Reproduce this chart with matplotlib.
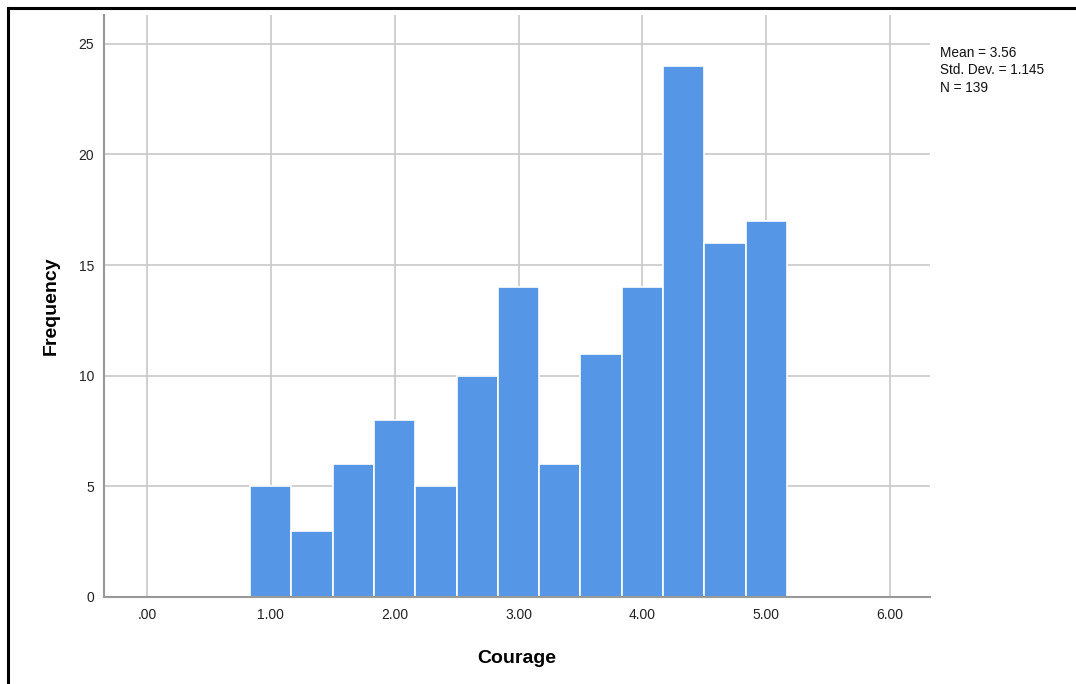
import numpy as np
import matplotlib
matplotlib.use("Agg")
import matplotlib.pyplot as plt
from matplotlib.lines import Line2D

plt.rcParams['font.family'] = ['Liberation Sans', 'DejaVu Sans']

# bin centres (width 1/3) and counts
bin_centers = [1.0, 4 / 3, 5 / 3, 2.0, 7 / 3, 8 / 3, 3.0, 10 / 3, 11 / 3, 4.0, 13 / 3, 14 / 3, 5.0]
counts = [5, 3, 6, 8, 5, 10, 14, 6, 11, 14, 24, 16, 17]
bin_width = 1 / 3

x_ticks = [0, 1, 2, 3, 4, 5, 6]
x_labels = [".00", "1.00", "2.00", "3.00", "4.00", "5.00", "6.00"]
y_ticks = [0, 5, 10, 15, 20, 25]

stats_text = "Mean = 3.56\nStd. Dev. = 1.145\nN = 139"

fig = plt.figure(figsize=(10.76, 6.84), dpi=100)
ax = fig.add_axes([0.0967, 0.1272, 0.864 - 0.0967, 0.978 - 0.1272])

ax.bar(bin_centers, counts, width=bin_width, color='#5596e6',
       edgecolor='white', linewidth=1.2, zorder=3)

ax.set_xlim(-0.347, 6.32)
ax.set_ylim(0, 26.3)
ax.set_xticks(x_ticks)
ax.set_xticklabels(x_labels)
ax.set_yticks(y_ticks)
ax.tick_params(length=0, labelsize=10, colors='#222222', pad=8)
ax.tick_params(axis='y', pad=7)

ax.grid(True, color='#c8c8c8', linewidth=1.2, zorder=0)
for s in ['top', 'right']:
    ax.spines[s].set_visible(False)
for s in ['left', 'bottom']:
    ax.spines[s].set_color('#999999')
    ax.spines[s].set_linewidth(1.5)
    ax.spines[s].set_zorder(4)

ax.set_xlabel('Courage', fontsize=14, fontweight='bold', labelpad=20)
ax.set_ylabel('Frequency', fontsize=14, fontweight='bold', labelpad=14)

fig.text(940 / 1076, 1 - 46 / 684, stats_text, fontsize=9.8, va='top',
         ha='left', linespacing=1.3, color='#111111')

# black frame on the top and left edges
fig.add_artist(Line2D([7.5 / 1076, 1], [1 - 7.5 / 684, 1 - 7.5 / 684],
                      color='black', linewidth=2.2, transform=fig.transFigure))
fig.add_artist(Line2D([7.5 / 1076, 7.5 / 1076], [0, 1 - 7.5 / 684],
                      color='black', linewidth=2.2, transform=fig.transFigure))

fig.savefig('out.png', dpi=100)
